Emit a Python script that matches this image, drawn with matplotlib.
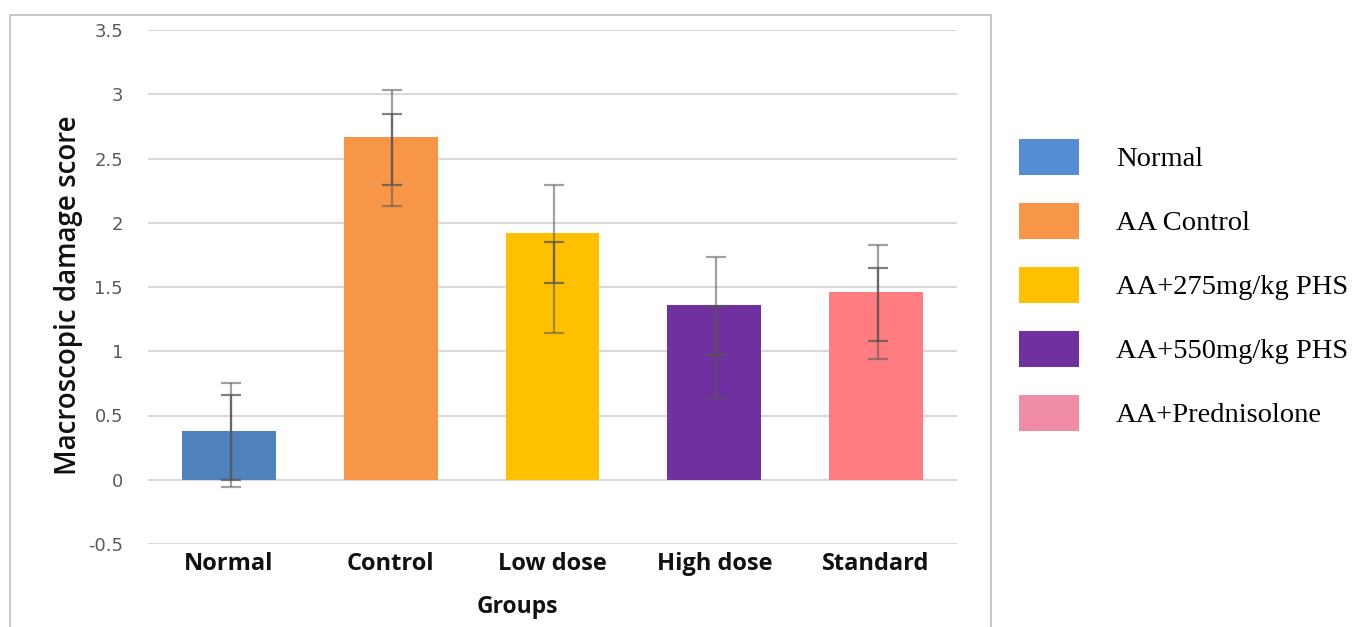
import numpy as np
import matplotlib
matplotlib.use("Agg")
import matplotlib.pyplot as plt
from matplotlib.patches import Patch, Rectangle

# data
groups = ["Normal", "Control", "Low dose", "High dose", "Standard"]
legend_labels = ["Normal", "AA Control", "AA+275mg/kg PHS", "AA+550mg/kg PHS", "AA+Prednisolone"]
means = [0.38, 2.67, 1.92, 1.36, 1.46]
# two overlapping error bar sets, given as (low, high) ends
outer_low = [-0.06, 2.13, 1.14, 0.64, 0.94]
outer_high = [0.75, 3.03, 2.29, 1.73, 1.83]
inner_low = [0.00, 2.29, 1.53, 0.97, 1.08]
inner_high = [0.66, 2.85, 1.85, 1.35, 1.65]

bar_colors = ["#4F81BD", "#F79646", "#FFC000", "#7030A0", "#FF7C80"]
legend_colors = ["#558ED5", "#F79646", "#FFC000", "#7030A0", "#F08CA6"]

fig = plt.figure(figsize=(13.54, 6.27), dpi=100)
ax = fig.add_axes([148/1354, 1-544/627, (957-148)/1354, (544-30)/627])

x = np.arange(len(groups))
ax.bar(x, means, width=0.58, color=bar_colors, zorder=2)

def draw_err(lo, hi, alpha):
    lo = np.array(lo); hi = np.array(hi)
    mid = (lo + hi) / 2
    ax.errorbar(x + 0.01, mid, yerr=[mid - lo, hi - mid], fmt="none",
                ecolor="#555555", elinewidth=1.6, capsize=7, capthick=1.6,
                alpha=alpha, zorder=3)

draw_err(outer_low, outer_high, 0.55)
draw_err(inner_low, inner_high, 0.75)

ax.set_ylim(-0.5, 3.5)
ax.set_xlim(-0.5, 4.5)
ax.set_yticks(np.arange(-0.5, 3.51, 0.5))
ax.set_yticklabels(["-0.5", "0", "0.5", "1", "1.5", "2", "2.5", "3", "3.5"])
ax.yaxis.grid(True, color="#D9D9D9", linewidth=1.5, zorder=0)
ax.set_axisbelow(True)
for s in ax.spines.values():
    s.set_visible(False)
ax.tick_params(axis="y", length=0, pad=18, labelsize=13, labelcolor="#595959")
ax.tick_params(axis="x", length=0, pad=6)
ax.set_xticks(x)
ax.set_xticklabels(groups, fontsize=17, fontweight="bold", family="Open Sans", color="#111111")

ax.set_ylabel("Macroscopic damage score", fontsize=20, family="Open Sans",
              fontweight="semibold", color="#111111")
ax.yaxis.set_label_coords(-(148-83)/(957-148), 0.484)
ax.set_xlabel("Groups", fontsize=16.5, fontweight="bold", family="Open Sans", color="#111111")
ax.xaxis.set_label_coords((517-148)/(957-148), -0.1)

# outer frame around the chart area
fig.patches.append(Rectangle((10/1354, -0.02), (991-10)/1354, 1-15/627+0.02,
                             transform=fig.transFigure, fill=False,
                             edgecolor="#BFBFBF", linewidth=1.2))

handles = [Patch(facecolor=c, edgecolor="none") for c in legend_colors]
fig.legend(handles, legend_labels, loc="upper left",
           bbox_to_anchor=(1019/1354, 1-139/627), frameon=False,
           prop={"family": "Liberation Serif", "size": 20.5},
           handlelength=2.1, handleheight=1.57, labelspacing=0.98,
           handletextpad=1.3, borderpad=0, borderaxespad=0)

fig.savefig("out.png", dpi=100)
